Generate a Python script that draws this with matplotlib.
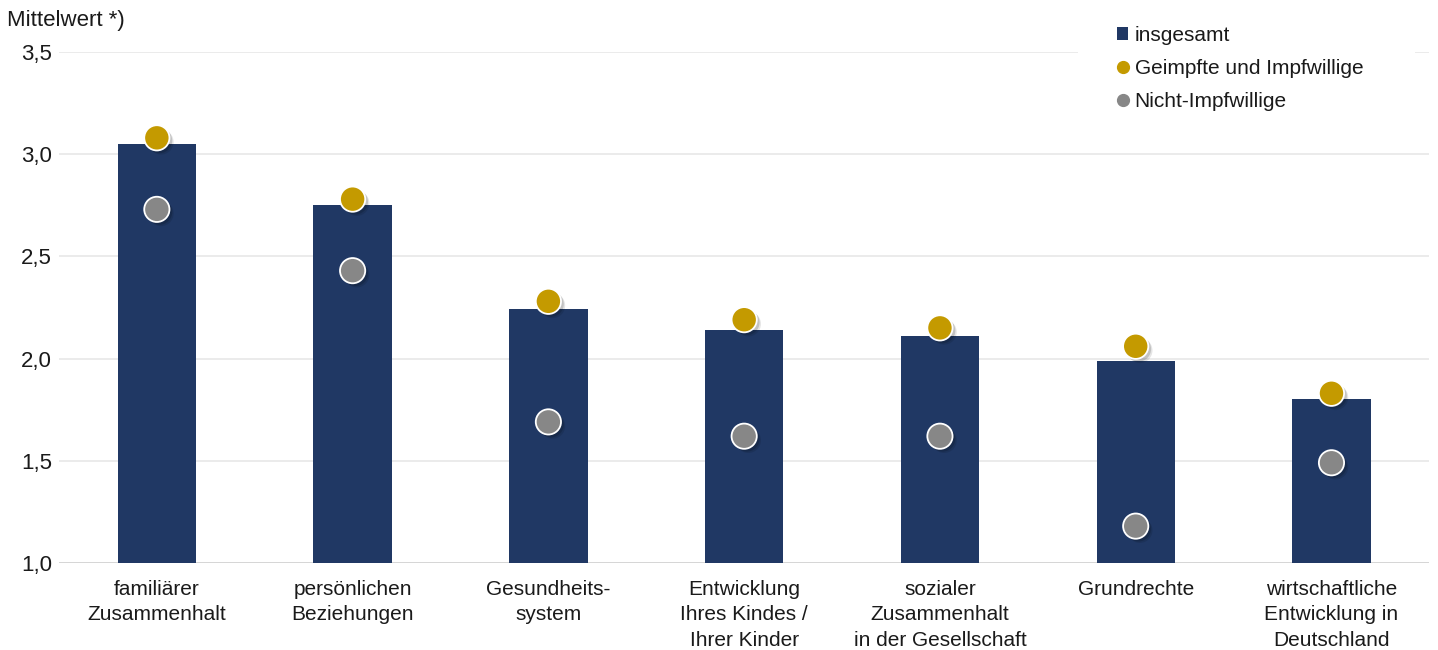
import numpy as np
import matplotlib.pyplot as plt
import matplotlib.patheffects as pe
from matplotlib.lines import Line2D
from matplotlib.patches import Patch, Rectangle

plt.rcParams['font.family'] = ['Liberation Sans', 'DejaVu Sans']

categories = ['familiärer\nZusammenhalt', 'persönlichen\nBeziehungen', 'Gesundheits-\nsystem',
              'Entwicklung\nIhres Kindes /\nIhrer Kinder', 'sozialer\nZusammenhalt\nin der Gesellschaft',
              'Grundrechte', 'wirtschaftliche\nEntwicklung in\nDeutschland']
insgesamt = [3.05, 2.75, 2.24, 2.14, 2.11, 1.99, 1.80]
geimpfte = [3.08, 2.78, 2.28, 2.19, 2.15, 2.06, 1.83]
nicht_impf = [2.73, 2.43, 1.69, 1.62, 1.62, 1.18, 1.49]
yticks = [1.0, 1.5, 2.0, 2.5, 3.0, 3.5]

navy = '#203864'
gold = '#c49a00'
grey = '#878787'
txt = '#1a1a1a'
fs = 15

fig = plt.figure(figsize=(14.38, 6.5), dpi=100)
ax = fig.add_axes([0.041, 0.134, 0.953, 0.786])

x = np.arange(len(categories))
ax.bar(x, [v - 1.0 for v in insgesamt], bottom=1.0, width=0.4, color=navy, zorder=2)

# blurred-ish shadow under the dots: a few stacked offsets
shadow = [pe.SimplePatchShadow(offset=(3, -3), shadow_rgbFace='black', alpha=0.10),
          pe.SimplePatchShadow(offset=(2, -2), shadow_rgbFace='black', alpha=0.15),
          pe.Normal()]
for vals, col in ((geimpfte, gold), (nicht_impf, grey)):
    sc = ax.scatter(x, vals, s=330, color=col, edgecolor='white', linewidth=1.3, zorder=4)
    sc.set_path_effects(shadow)

ax.set_xlim(-0.5, 6.5)
ax.set_ylim(1.0, 3.5)
ax.set_yticks(yticks)
ax.set_yticklabels([f'{t:.1f}'.replace('.', ',') for t in yticks], fontsize=16)
ax.set_xticks(x)
ax.set_xticklabels(categories, fontsize=fs, linespacing=1.45, va='top')
ax.tick_params(axis='both', length=0, colors=txt)
ax.tick_params(axis='x', pad=12)
ax.tick_params(axis='y', pad=5)
ax.grid(axis='y', color='#e8e8e8', linewidth=1.2, zorder=0)
ax.set_axisbelow(True)
for s in ax.spines.values():
    s.set_visible(False)
ax.axhline(1.0, color='#d4d4d4', linewidth=1.3, zorder=1)

fig.text(0.005, 0.968, 'Mittelwert *)', fontsize=16, color=txt, va='center')

# white block behind the legend, hides the top gridline there
fig.add_artist(Rectangle((1078 / 1438, 1 - 120 / 650), 337 / 1438, 105 / 650,
                         transform=fig.transFigure, facecolor='white', edgecolor='none', zorder=1))

handles = [Patch(facecolor=navy, label='insgesamt'),
           Line2D([], [], marker='o', linestyle='', markersize=8.5, color=gold, label='Geimpfte und Impfwillige'),
           Line2D([], [], marker='o', linestyle='', markersize=8.5, color=grey, label='Nicht-Impfwillige')]
leg = fig.legend(handles=handles, loc='upper left', bbox_to_anchor=(0.7695, 0.976), fontsize=fs,
                 frameon=False, handlelength=0.55, handleheight=0.55, handletextpad=0.3,
                 labelspacing=0.67, borderpad=0.5, borderaxespad=0)
leg.set_zorder(5)
for t in leg.get_texts():
    t.set_color(txt)

fig.savefig('out.png', dpi=100, facecolor='white')
